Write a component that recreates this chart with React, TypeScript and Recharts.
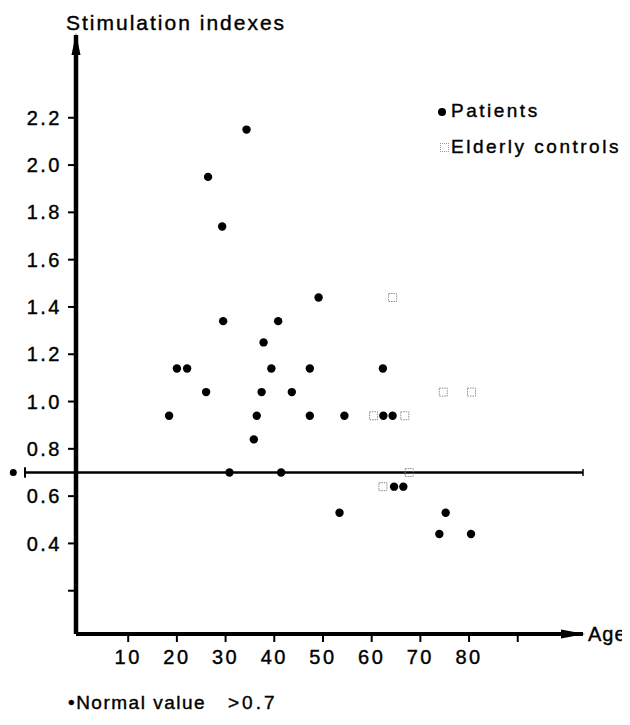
import React from 'react';
import { ScatterChart, Scatter, XAxis, YAxis, ReferenceLine, ReferenceDot } from 'recharts';

// Patients (filled dots): age, stimulation index
const patientAges = [18.4, 20.0, 22.1, 26.0, 26.4, 29.3, 29.5, 30.8, 34.3, 35.8, 36.4, 37.4, 37.8, 39.4, 40.8, 41.4, 43.6, 47.3, 47.3, 49.1, 53.4, 54.4, 62.3, 62.4, 64.3, 64.6, 66.5, 73.9, 75.2, 80.4];
const patientValues = [0.94, 1.14, 1.14, 1.04, 1.95, 1.74, 1.34, 0.70, 2.15, 0.84, 0.94, 1.04, 1.25, 1.14, 1.34, 0.70, 1.04, 1.14, 0.94, 1.44, 0.53, 0.94, 1.14, 0.94, 0.94, 0.64, 0.64, 0.44, 0.53, 0.44];

// Elderly controls (open squares)
const controlAges = [60.4, 62.3, 64.3, 66.8, 67.7, 74.7, 80.5];
const controlValues = [0.94, 0.64, 1.44, 0.94, 0.70, 1.04, 1.04];

const xTicks = [10, 20, 30, 40, 50, 60, 70, 80, 90];
const xTickLabels = ['10', '20', '30', '40', '50', '60', '70', '80', ''];
const yTicks = [0.2, 0.4, 0.6, 0.8, 1.0, 1.2, 1.4, 1.6, 1.8, 2.0, 2.2];
const yTickLabels = ['', '0.4', '0.6', '0.8', '1.0', '1.2', '1.4', '1.6', '1.8', '2.0', '2.2'];

const normalValue = 0.7;
const xDomain: [number, number] = [-0.72, 103.4];
const yDomain: [number, number] = [0.017, 2.55];
const normalLineStart = -11.2;
const normalDotAge = -13.6;

const patients = patientAges.map((a, i) => ({ age: a, value: patientValues[i] }));
const controls = controlAges.map((a, i) => ({ age: a, value: controlValues[i] }));

const FONT = '"Liberation Sans", Arial, Helvetica, sans-serif';
const tickStyle = { fontSize: 20, fill: '#000', fontFamily: FONT, letterSpacing: 2.5, stroke: '#000', strokeWidth: 0.4 };

const Dot = (p: any) => <circle cx={p.cx} cy={p.cy} r={4.2} fill="#000" />;
const Square = (p: any) => (
  <rect x={p.cx - 4} y={p.cy - 4} width={8} height={8} fill="none" stroke="#8a8a8a" strokeWidth={1} strokeDasharray="1.5 1" />
);
const UpArrow = (p: any) => (
  <polygon points={`${p.cx},${p.cy - 2} ${p.cx - 4.5},${p.cy + 20} ${p.cx + 4.5},${p.cy + 20}`} fill="#000" />
);
const RightArrow = (p: any) => (
  <polygon points={`${p.cx + 2},${p.cy} ${p.cx - 22},${p.cy - 4.5} ${p.cx - 22},${p.cy + 4.5}`} fill="#000" />
);

const txt = (left: number, top: number, size: number, content: React.ReactNode, extra: React.CSSProperties = {}) => (
  <div
    style={{
      position: 'absolute',
      left,
      top,
      fontSize: size,
      lineHeight: `${size}px`,
      fontFamily: FONT,
      letterSpacing: 2.5,
      whiteSpace: 'pre',
      color: '#000',
      WebkitTextStroke: '0.4px #000',
      ...extra,
    }}
  >
    {content}
  </div>
);

export default function App() {
  return (
    <div style={{ position: 'relative', width: 614, height: 709, background: '#fff', overflow: 'visible' }}>
      <ScatterChart width={614} height={709} margin={{ top: 27, right: 39, bottom: 43, left: 8 }}>
        <XAxis
          type="number"
          dataKey="age"
          domain={xDomain}
          ticks={xTicks}
          tickFormatter={(v: number, i: number) => xTickLabels[i]}
          axisLine={{ stroke: '#000', strokeWidth: 4 }}
          tickLine={{ stroke: '#000', strokeWidth: 2 }}
          tickSize={8}
          tickMargin={8}
          tick={tickStyle}
          height={40}
          allowDataOverflow
        />
        <YAxis
          type="number"
          dataKey="value"
          domain={yDomain}
          ticks={yTicks}
          tickFormatter={(v: number, i: number) => yTickLabels[i]}
          axisLine={{ stroke: '#000', strokeWidth: 4.5 }}
          tickLine={{ stroke: '#000', strokeWidth: 2 }}
          tickSize={8}
          tickMargin={6}
          tick={tickStyle}
          width={60}
          allowDataOverflow
        />
        <ReferenceLine
          segment={[{ x: normalLineStart, y: normalValue }, { x: xDomain[1], y: normalValue }]}
          stroke="#000"
          strokeWidth={2.5}
          ifOverflow="visible"
        />
        <ReferenceLine
          segment={[{ x: normalLineStart, y: normalValue - 0.022 }, { x: normalLineStart, y: normalValue + 0.022 }]}
          stroke="#000"
          strokeWidth={2}
          ifOverflow="visible"
        />
        <ReferenceLine
          segment={[{ x: xDomain[1], y: normalValue - 0.015 }, { x: xDomain[1], y: normalValue + 0.015 }]}
          stroke="#000"
          strokeWidth={1.5}
          ifOverflow="visible"
        />
        <ReferenceDot x={normalDotAge} y={normalValue} r={3.5} fill="#000" stroke="none" ifOverflow="visible" />
        <ReferenceDot x={xDomain[0]} y={yDomain[1]} ifOverflow="visible" shape={UpArrow} />
        <ReferenceDot x={xDomain[1]} y={yDomain[0]} ifOverflow="visible" shape={RightArrow} />
        <Scatter data={controls} shape={Square} isAnimationActive={false} />
        <Scatter data={patients} shape={Dot} isAnimationActive={false} />
      </ScatterChart>

      {txt(58, 4, 21, 'Stimulation indexes', { letterSpacing: 2 })}
      <div style={{ position: 'absolute', left: 430, top: 100, width: 8, height: 8, borderRadius: 4, background: '#000' }} />
      {txt(443, 92.6, 19, 'Patients')}
      <div style={{ position: 'absolute', left: 432, top: 135, width: 7, height: 7, border: '1px dotted #999' }} />
      {txt(443, 129, 19, 'Elderly controls')}
      {txt(580, 616, 20, 'Age', { letterSpacing: 1 })}
      {txt(60, 685, 19, '\u2022Normal value', { letterSpacing: 1.5 })}
      {txt(220, 685, 19, '>0.7', { letterSpacing: 3 })}
    </div>
  );
}
